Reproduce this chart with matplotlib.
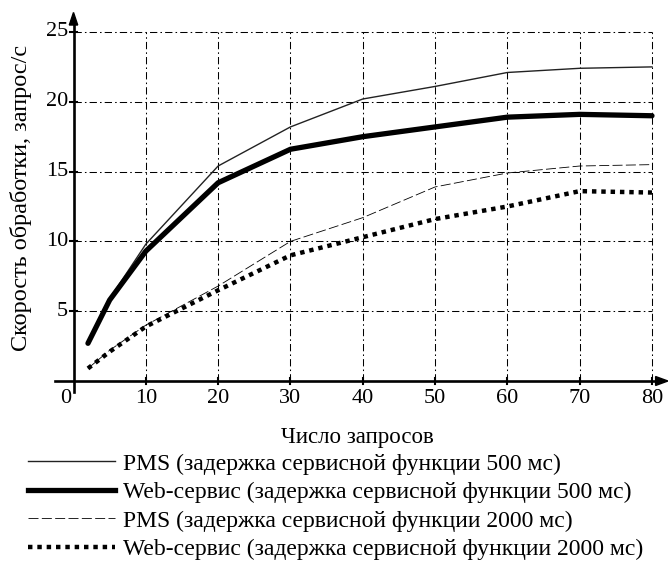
import matplotlib
matplotlib.use("Agg")
import matplotlib.pyplot as plt
from matplotlib.lines import Line2D
from matplotlib.patches import Polygon

plt.rcParams['font.family'] = ['Liberation Serif', 'DejaVu Serif']

# Number of requests
requests = [2, 5, 10, 20, 30, 40, 50, 60, 70, 80]

# Processing rate, requests per second
pms_500 = [2.7, 5.9, 9.8, 15.4, 18.2, 20.2, 21.1, 22.1, 22.4, 22.5]
web_500 = [2.7, 5.8, 9.3, 14.2, 16.6, 17.5, 18.2, 18.9, 19.1, 19.0]
pms_2000 = [0.9, 2.2, 4.0, 6.8, 10.0, 11.7, 13.9, 14.9, 15.4, 15.5]
web_2000 = [0.9, 2.1, 3.9, 6.5, 9.0, 10.3, 11.6, 12.5, 13.6, 13.5]

series_labels = [
    "PMS (задержка сервисной функции 500 мс)",
    "Web-сервис (задержка сервисной функции 500 мс)",
    "PMS (задержка сервисной функции 2000 мс)",
    "Web-сервис (задержка сервисной функции 2000 мс)",
]

x_ticks = [10, 20, 30, 40, 50, 60, 70, 80]
y_ticks = [5, 10, 15, 20, 25]

W, H = 668, 562
fig = plt.figure(figsize=(W / 100, H / 100), dpi=100)

xmin, xmax = -2.6, 82.3
ymin, ymax = -1.5, 26.5
px_x0, px_per_x = 73.5, 7.231
px_y0, px_per_y = 381.0, 13.96
left = px_x0 + xmin * px_per_x
right = px_x0 + xmax * px_per_x
top = px_y0 - ymax * px_per_y
bottom = px_y0 - ymin * px_per_y
ax = fig.add_axes([left / W, 1 - bottom / H, (right - left) / W, (bottom - top) / H])
ax.set_xlim(xmin, xmax)
ax.set_ylim(ymin, ymax)
for s in ax.spines.values():
    s.set_visible(False)
ax.set_xticks([])
ax.set_yticks([])

# dash-dot grid
grid_style = dict(color='black', lw=0.75, linestyle=(0, (7, 3, 1.5, 3)), zorder=1)
for xv in x_ticks:
    ax.plot([xv, xv], [0, 25], **grid_style)
for yv in y_ticks:
    ax.plot([0, 80], [yv, yv], **grid_style)

# axes with arrows
ax.plot([-2.5, 81.0], [0, 0], color='black', lw=1.9, zorder=3, clip_on=False)
ax.plot([0, 0], [-0.8, 25.8], color='black', lw=1.9, zorder=3, clip_on=False)
ax.add_patch(Polygon([[82.2, 0], [80.5, 0.32], [80.5, -0.32]], closed=True,
                     color='black', zorder=4, clip_on=False))
ax.add_patch(Polygon([[0, 26.4], [-0.58, 25.5], [0.58, 25.5]], closed=True,
                     color='black', zorder=4, clip_on=False))

# tick marks and labels
for xv in x_ticks:
    ax.plot([xv, xv], [-0.25, 0.25], color='black', lw=1.5, zorder=3)
    ax.text(xv, -0.55, str(xv), ha='center', va='top', fontsize=16)
for yv in y_ticks:
    ax.plot([-0.45, 0.45], [yv, yv], color='black', lw=1.5, zorder=3)
    ax.text(-0.75, yv, str(yv), ha='right', va='center', fontsize=16)
ax.text(-0.35, -0.55, "0", ha='right', va='top', fontsize=16)

# data lines
l1, = ax.plot(requests, pms_500, color='#222222', lw=1.0, zorder=5)
l2, = ax.plot(requests, web_500, color='black', lw=3.8, zorder=5,
              solid_capstyle='round', solid_joinstyle='round')
l3, = ax.plot(requests, pms_2000, color='black', lw=0.6,
              linestyle=(0, (12, 4)), zorder=5)
l4, = ax.plot(requests, web_2000, color='black', lw=3.2,
              linestyle=(0, (1.0, 1.1)), dash_capstyle='butt', zorder=5)

fig.text(357 / W, 1 - 437 / H, "Число запросов", ha='center', va='center', fontsize=16.5)
fig.text(21 / W, 1 - 198 / H, "Скорость обработки, запрос/с", ha='center', va='center',
         rotation=90, fontsize=17.5)

handles = [
    Line2D([], [], color='#222222', lw=1.0),
    Line2D([], [], color='black', lw=3.8),
    Line2D([], [], color='black', lw=0.6, linestyle=(0, (12, 4))),
    Line2D([], [], color='black', lw=3.2, linestyle=(0, (1.0, 1.1)), dash_capstyle='butt'),
]
fig.legend(handles, series_labels, loc='upper left',
           bbox_to_anchor=(28 / W, 1 - 453 / H), frameon=False, fontsize=17,
           handlelength=3.7, handletextpad=0.32, labelspacing=0.3,
           borderpad=0, borderaxespad=0)

fig.savefig("out.png", dpi=100)
